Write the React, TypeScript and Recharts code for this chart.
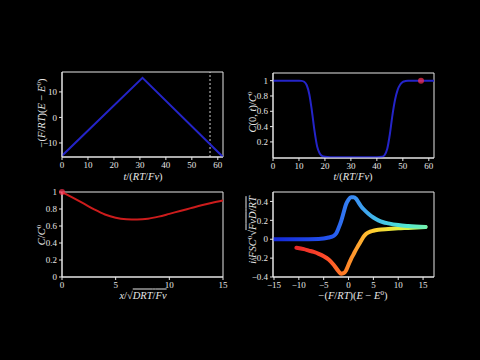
import React from "react";
import {
    LineChart,
    Line,
    XAxis,
    YAxis,
    ReferenceLine,
    ReferenceDot,
    ReferenceArea,
} from "recharts";

// potential sweep
const sweepT = [0, 31, 62];
const sweepE = [-15, 15.5, -15.5];
const sweepTicksX = [0, 10, 20, 30, 40, 50, 60];
const sweepTicksY = [-10, 0, 10];
const markerT = 57;

// surface concentration
const surfT = [0, 5, 10, 11, 12, 13, 14, 15, 16, 17, 18, 19, 20, 22, 25, 30, 35, 40, 42, 43, 44, 45, 46, 47, 48, 49, 50, 51, 52, 55, 60, 62];
const surfC = [1, 1, 1, 0.997, 0.985, 0.94, 0.82, 0.6, 0.34, 0.14, 0.05, 0.015, 0.005, 0, 0, 0, 0, 0, 0.005, 0.03, 0.11, 0.3, 0.55, 0.75, 0.88, 0.95, 0.985, 0.995, 1, 1, 1, 1];
const surfTicksY = [0.2, 0.4, 0.6, 0.8, 1];

// concentration profile
const profX = [0, 1, 2, 3, 4, 5, 6, 7, 8, 9, 10, 11, 12, 13, 14, 15];
const profC = [1, 0.933, 0.865, 0.795, 0.735, 0.697, 0.68, 0.676, 0.685, 0.71, 0.743, 0.777, 0.81, 0.843, 0.873, 0.9];
const profTicksX = [0, 5, 10, 15];
const profTicksY = [0, 0.2, 0.4, 0.6, 0.8, 1];

// voltammogram, forward and reverse scan
const fwdE = [-15, -10, -6, -5, -4, -3, -2.5, -2, -1.5, -1, -0.5, 0, 0.5, 1, 1.5, 2, 2.5, 3, 4, 5, 6, 7, 8, 10, 12, 15.5];
const fwdI = [0, 0, 0.003, 0.008, 0.018, 0.035, 0.06, 0.12, 0.19, 0.28, 0.37, 0.42, 0.445, 0.445, 0.43, 0.39, 0.35, 0.32, 0.27, 0.23, 0.2, 0.18, 0.168, 0.15, 0.14, 0.13];
const revE = [-10.5, -9, -8, -7, -6, -5, -4, -3, -2, -1.5, -1, -0.5, 0, 0.5, 1, 1.5, 2, 2.5, 3, 3.5, 4, 5, 6, 8, 10, 12, 15.5];
const revI = [-0.09, -0.105, -0.12, -0.135, -0.155, -0.18, -0.215, -0.27, -0.34, -0.365, -0.36, -0.33, -0.27, -0.21, -0.16, -0.11, -0.065, -0.02, 0.025, 0.055, 0.072, 0.09, 0.1, 0.108, 0.115, 0.12, 0.13];
const cvTicksX = [-15, -10, -5, 0, 5, 10, 15];
const cvTicksY = [-0.4, -0.2, 0, 0.2, 0.4];

const zip = (xs: number[], ys: number[]) => xs.map((x, i) => ({ x, y: ys[i] }));

const FG = "#e6e6e6";
const FONT = "'Liberation Serif', 'DejaVu Serif', serif";
const tickStyle = { fontSize: 9, fill: FG, fontFamily: FONT };
const fmt = (v: number) => String(v).replace("-", "\u2212");

const YW = 40;
const XH = 20;
const MT = 6;
const MR = 6;

const Frame = ({ x0, x1, y0, y1 }: { x0: number; x1: number; y0: number; y1: number }) => (
    <ReferenceArea x1={x0} x2={x1} y1={y0} y2={y1} fill="none" stroke={FG} strokeWidth={1} ifOverflow="visible" />
);

const axisProps = {
    type: "number" as const,
    allowDataOverflow: true,
    stroke: FG,
    tick: tickStyle,
    tickSize: 3,
    tickMargin: 2,
    tickFormatter: fmt,
};

const Panel: React.FC<{ left: number; top: number; children: React.ReactNode }> = ({ left, top, children }) => (
    <div style={{ position: "absolute", left: left - YW, top: top - MT }}>
        <LineChart width={161 + YW + MR} height={85 + MT + XH} margin={{ top: MT, right: MR, left: 0, bottom: 0 }}>
            {children}
        </LineChart>
    </div>
);

const Txt: React.FC<{ cx: number; cy: number; rotate?: boolean; size?: number; children: React.ReactNode }> = ({ cx, cy, rotate, size = 10.5, children }) => (
    <div
        style={{
            position: "absolute",
            left: cx,
            top: cy,
            transform: `translate(-50%, -50%)${rotate ? " rotate(-90deg)" : ""}`,
            whiteSpace: "nowrap",
            color: FG,
            fontFamily: FONT,
            fontSize: size,
            lineHeight: "13px",
        }}
    >
        {children}
    </div>
);

const Sup: React.FC<{ children: React.ReactNode }> = ({ children }) => (
    <sup style={{ fontSize: 7, verticalAlign: "4px", fontStyle: "normal", lineHeight: 0 }}>{children}</sup>
);

const Sqrt: React.FC<{ children: React.ReactNode }> = ({ children }) => (
    <span>
        <span style={{ fontStyle: "normal" }}>{"\u221A"}</span>
        <span style={{ textDecoration: "overline" }}>{children}</span>
    </span>
);

const potentialLabel = (
    <span>
        {"\u2212("}<i>F</i>/<i>RT</i>{")("}<i>E</i>{" \u2212 "}<i>E</i><Sup>0</Sup>)
    </span>
);
const timeLabel = (
    <span>
        <i>t</i>/(<i>RT</i>/<i>F{"\u03BD"}</i>)
    </span>
);

export default function App() {
    return (
        <div style={{ position: "absolute", left: 0, top: 0, width: 480, height: 360, background: "#000", overflow: "hidden" }}>
            {/* potential vs time */}
            <Panel left={62} top={72}>
                <XAxis {...axisProps} dataKey="x" domain={[0, 62]} ticks={sweepTicksX} height={XH} />
                <YAxis {...axisProps} dataKey="y" domain={[-15.5, 17.8]} ticks={sweepTicksY} width={YW} />
                <Frame x0={0} x1={62} y0={-15.5} y1={17.8} />
                <ReferenceLine x={markerT} stroke="#cfcfcf" strokeDasharray="2 2" strokeWidth={1} />
                <Line data={zip(sweepT, sweepE)} dataKey="y" stroke="#2424c8" strokeWidth={2} dot={false} isAnimationActive={false} />
            </Panel>

            {/* surface concentration vs time */}
            <Panel left={273} top={73}>
                <XAxis {...axisProps} dataKey="x" domain={[0, 62]} ticks={sweepTicksX} height={XH} />
                <YAxis {...axisProps} dataKey="y" domain={[-0.01, 1.1]} ticks={surfTicksY} width={YW} />
                <Frame x0={0} x1={62} y0={-0.01} y1={1.1} />
                <Line data={zip(surfT, surfC)} dataKey="y" type="monotone" stroke="#2424c8" strokeWidth={2} dot={false} isAnimationActive={false} />
                <ReferenceDot x={markerT} y={1} r={3} fill="#ff3050" fillOpacity={0.7} stroke="none" />
            </Panel>

            {/* concentration profile */}
            <Panel left={62} top={192}>
                <XAxis {...axisProps} dataKey="x" domain={[0, 15]} ticks={profTicksX} height={XH} />
                <YAxis {...axisProps} dataKey="y" domain={[0, 1]} ticks={profTicksY} width={YW} />
                <Frame x0={0} x1={15} y0={0} y1={1} />
                <Line data={zip(profX, profC)} dataKey="y" type="monotone" stroke="#cc1c1c" strokeWidth={2} dot={false} isAnimationActive={false} />
                <ReferenceDot x={0} y={1} r={3} fill="#ff3050" fillOpacity={0.7} stroke="none" />
            </Panel>

            {/* cyclic voltammogram */}
            <Panel left={273} top={192}>
                <defs>
                    <linearGradient id="fwdGrad" x1="0" y1="0" x2="1" y2="0">
                        <stop offset="0%" stopColor="#1428d8" />
                        <stop offset="38%" stopColor="#2456ee" />
                        <stop offset="52%" stopColor="#3a8cf4" />
                        <stop offset="72%" stopColor="#44c8e6" />
                        <stop offset="88%" stopColor="#52e8d0" />
                        <stop offset="100%" stopColor="#72f0b0" />
                    </linearGradient>
                    <linearGradient id="revGrad" x1="0" y1="0" x2="1" y2="0">
                        <stop offset="0%" stopColor="#e82828" />
                        <stop offset="22%" stopColor="#ff4a2a" />
                        <stop offset="36%" stopColor="#ff7a25" />
                        <stop offset="48%" stopColor="#ffa530" />
                        <stop offset="60%" stopColor="#ffd030" />
                        <stop offset="80%" stopColor="#e0f040" />
                        <stop offset="100%" stopColor="#a0f070" />
                    </linearGradient>
                </defs>
                <XAxis {...axisProps} dataKey="x" domain={[-15.2, 17.2]} ticks={cvTicksX} height={XH} />
                <YAxis {...axisProps} dataKey="y" domain={[-0.4, 0.5]} ticks={cvTicksY} width={YW} />
                <Frame x0={-15.2} x1={17.2} y0={-0.4} y1={0.5} />
                <Line data={zip(revE, revI)} dataKey="y" type="monotone" stroke="url(#revGrad)" strokeWidth={4} strokeLinecap="round" dot={false} isAnimationActive={false} />
                <Line data={zip(fwdE, fwdI)} dataKey="y" type="monotone" stroke="url(#fwdGrad)" strokeWidth={4} strokeLinecap="round" dot={false} isAnimationActive={false} />
            </Panel>

            <Txt cx={41} cy={113} rotate>{potentialLabel}</Txt>
            <Txt cx={143} cy={176}>{timeLabel}</Txt>

            <Txt cx={252} cy={112} rotate>
                <span><i>C</i>(0, <i>t</i>)/<i>C</i><Sup>0</Sup></span>
            </Txt>
            <Txt cx={353} cy={176}>{timeLabel}</Txt>

            <Txt cx={41} cy={235} rotate>
                <span><i>C</i>/<i>C</i><Sup>0</Sup></span>
            </Txt>
            <Txt cx={143} cy={295}>
                <span><i>x</i>/<Sqrt><i>DRT</i>/<i>F{"\u03BD"}</i></Sqrt></span>
            </Txt>

            <Txt cx={252} cy={230} rotate>
                <span><i>i</i>/<i>FSC</i><Sup>0</Sup><Sqrt><i>F{"\u03BD"}D</i>/<i>RT</i></Sqrt></span>
            </Txt>
            <Txt cx={353} cy={295}>{potentialLabel}</Txt>
        </div>
    );
}
